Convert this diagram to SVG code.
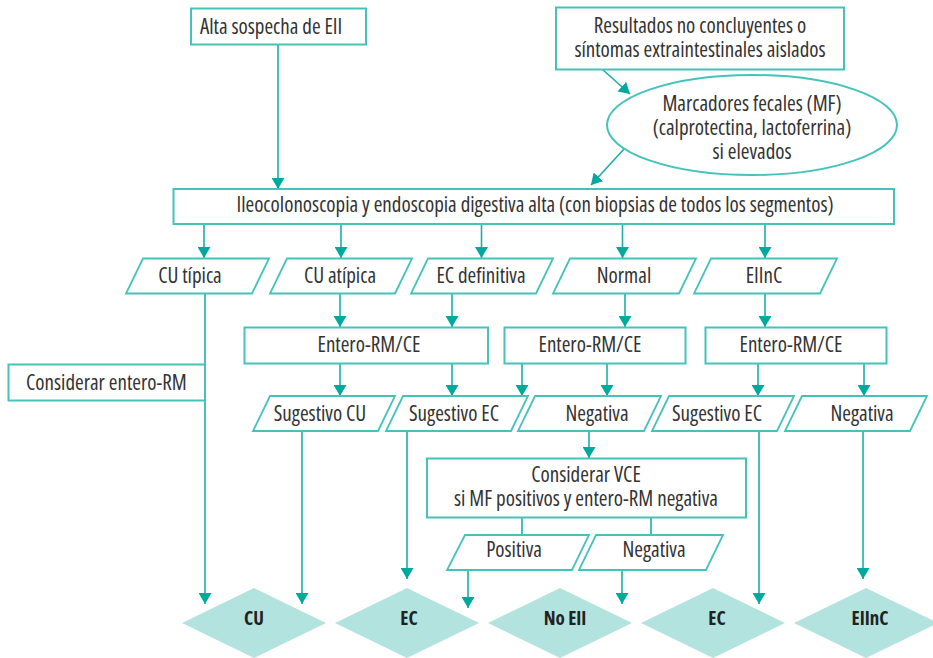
<svg xmlns="http://www.w3.org/2000/svg" width="933" height="658" viewBox="0 0 933 658">
<defs>
<marker id="ah" viewBox="0 0 11 13" refX="11" refY="6.5" markerWidth="11" markerHeight="13" markerUnits="userSpaceOnUse" orient="auto">
<path d="M0,0 L11,6.5 L0,13 z" fill="#00a99d"/>
</marker>
<style>
.bx{fill:#fff;stroke:#45c3bb;stroke-width:2}
.pg{fill:#fff;stroke:#45c3bb;stroke-width:1.8}
.dm{fill:#b3e3df;stroke:none}
.t{font-family:"Open Sans","Noto Sans","Liberation Sans",sans-serif;font-stretch:condensed;font-size:21px;fill:#333;text-anchor:middle}
.s{text-anchor:start}
.b{font-weight:bold;font-size:19px;fill:#222}
.c{fill:none;stroke:#1ab0a6;stroke-width:1.6}
.a{marker-end:url(#ah)}
</style>
</defs>
<rect width="933" height="658" fill="#fff"/>
<g id="connectors">
<line class="c a" x1="278" y1="44" x2="278" y2="189"/>
<line class="c a" x1="602" y1="69" x2="630" y2="94"/>
<line class="c a" x1="624" y1="149" x2="591" y2="185"/>
<line class="c a" x1="204" y1="224" x2="204" y2="258"/>
<line class="c a" x1="341" y1="224" x2="341" y2="258"/>
<line class="c a" x1="481.5" y1="224" x2="481.5" y2="258"/>
<line class="c a" x1="622.5" y1="224" x2="622.5" y2="258"/>
<line class="c a" x1="765" y1="224" x2="765" y2="258"/>
<line class="c a" x1="340" y1="293" x2="340" y2="327"/>
<line class="c a" x1="452" y1="293" x2="452" y2="327"/>
<line class="c a" x1="625" y1="293" x2="625" y2="327"/>
<line class="c a" x1="765" y1="293" x2="765" y2="327"/>
<line class="c a" x1="340" y1="363" x2="340" y2="396"/>
<line class="c a" x1="452" y1="363" x2="452" y2="396"/>
<line class="c a" x1="522" y1="363" x2="522" y2="396"/>
<line class="c a" x1="607" y1="363" x2="607" y2="396"/>
<line class="c a" x1="758" y1="363" x2="758" y2="396"/>
<line class="c a" x1="864" y1="363" x2="864" y2="396"/>
<line class="c a" x1="205" y1="293" x2="205" y2="604"/>
<line class="c a" x1="302" y1="431" x2="302" y2="604"/>
<line class="c a" x1="407" y1="431" x2="407" y2="579"/>
<line class="c a" x1="589" y1="431" x2="589" y2="458"/>
<line class="c a" x1="759" y1="431" x2="759" y2="604"/>
<line class="c a" x1="863" y1="431" x2="863" y2="579"/>
<line class="c" x1="522" y1="518" x2="522" y2="535"/>
<line class="c" x1="651" y1="518" x2="651" y2="535"/>
<line class="c a" x1="468" y1="570" x2="468" y2="608"/>
<line class="c a" x1="622" y1="570" x2="622" y2="604"/>
</g>
<g id="n_alta"><rect class="bx" x="191" y="8.5" width="175" height="36"/><text class="t s" x="200" y="34">Alta sospecha de EII</text></g>
<g id="n_resultados"><rect class="bx" x="556" y="7.5" width="288" height="62"/><text class="t" x="700" y="33">Resultados no concluyentes o<tspan x="700" y="57">síntomas extraintestinales aislados</tspan></text></g>
<g id="n_mf"><ellipse cx="752" cy="125" rx="145" ry="50" fill="#fff" stroke="#45c3bb" stroke-width="2"/><text class="t" x="752" y="111">Marcadores fecales (MF)<tspan x="752" y="135">(calprotectina, lactoferrina)</tspan><tspan x="752" y="159">si elevados</tspan></text></g>
<g id="n_ileo"><rect class="bx" x="173.5" y="189" width="720.5" height="35"/><text class="t" x="535" y="212">Ileocolonoscopia y endoscopia digestiva alta (con biopsias de todos los segmentos)</text></g>
<g id="n_cutipica"><polygon class="pg" points="143,258.5 269,258.5 252,293.5 126,293.5"/><text class="t" x="190" y="283">CU típica</text></g>
<g id="n_cuatipica"><polygon class="pg" points="287,258.5 412,258.5 395,293.5 270,293.5"/><text class="t" x="340" y="283">CU atípica</text></g>
<g id="n_ecdef"><polygon class="pg" points="428,258.5 553,258.5 536,293.5 411,293.5"/><text class="t" x="481" y="283">EC definitiva</text></g>
<g id="n_normal"><polygon class="pg" points="570,258.5 696,258.5 679,293.5 553,293.5"/><text class="t" x="624" y="283">Normal</text></g>
<g id="n_eiinc"><polygon class="pg" points="711,258.5 837,258.5 820,293.5 694,293.5"/><text class="t" x="764" y="283">EIInC</text></g>
<g id="n_erm1"><rect class="bx" x="244.5" y="327.5" width="243.5" height="36"/><text class="t" x="369" y="352">Entero-RM/CE</text></g>
<g id="n_erm2"><rect class="bx" x="504.5" y="327.5" width="181" height="36"/><text class="t" x="590" y="352">Entero-RM/CE</text></g>
<g id="n_erm3"><rect class="bx" x="705.5" y="327.5" width="181" height="36"/><text class="t" x="791" y="352">Entero-RM/CE</text></g>
<g id="n_consrm"><rect class="bx" x="8.5" y="364.5" width="196.5" height="36"/><text class="t s" x="26" y="390">Considerar entero-RM</text></g>
<g id="n_sugcu"><polygon class="pg" points="270,396 395,396 378,431 253,431"/><text class="t" x="320" y="420.5">Sugestivo CU</text></g>
<g id="n_sugec1"><polygon class="pg" points="403,396 528,396 511,431 386,431"/><text class="t" x="454" y="420.5">Sugestivo EC</text></g>
<g id="n_neg1"><polygon class="pg" points="535,396 661,396 644,431 518,431"/><text class="t" x="597" y="420.5">Negativa</text></g>
<g id="n_sugec2"><polygon class="pg" points="669,396 794,396 777,431 652,431"/><text class="t" x="717" y="420.5">Sugestivo EC</text></g>
<g id="n_neg2"><polygon class="pg" points="802,396 927,396 910,431 785,431"/><text class="t" x="862" y="420.5">Negativa</text></g>
<g id="n_vce"><rect class="bx" x="427" y="458.5" width="319" height="59"/><text class="t" x="586" y="482">Considerar VCE<tspan x="586" y="506">si MF positivos y entero-RM negativa</tspan></text></g>
<g id="n_pos"><polygon class="pg" points="465,535 589,535 572,570 447,570"/><text class="t" x="514" y="556.5">Positiva</text></g>
<g id="n_neg3"><polygon class="pg" points="596,535 723,535 706,570 579,570"/><text class="t" x="654" y="556.5">Negativa</text></g>
<g id="d_cu"><polygon class="dm" points="254,588 326,623 254,658 182,623"/><text class="t b" x="254" y="625">CU</text></g>
<g id="d_ec1"><polygon class="dm" points="407,588 479,623 407,658 335,623"/><text class="t b" x="409" y="625">EC</text></g>
<g id="d_noeii"><polygon class="dm" points="560,588 632,623 560,658 488,623"/><text class="t b" x="565" y="625">No EII</text></g>
<g id="d_ec2"><polygon class="dm" points="713,588 785,623 713,658 641,623"/><text class="t b" x="717" y="625">EC</text></g>
<g id="d_eiinc"><polygon class="dm" points="866,588 938,623 866,658 794,623"/><text class="t b" x="870" y="625">EIInC</text></g>
</svg>
